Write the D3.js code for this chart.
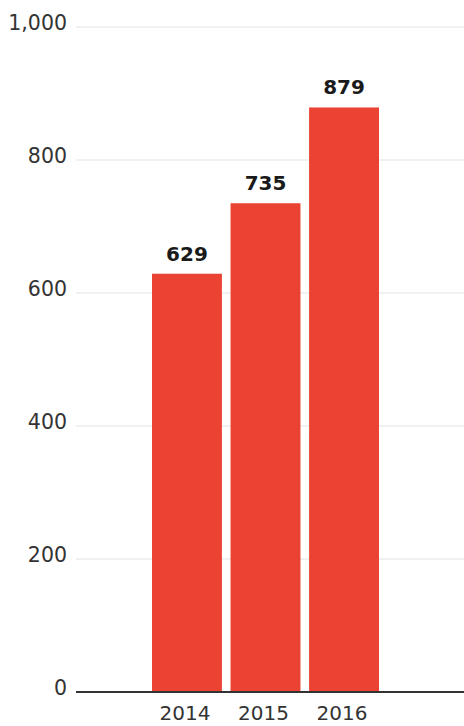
<!DOCTYPE html>
<html>
<head>
<meta charset="utf-8">
<script src="https://cdn.jsdelivr.net/npm/d3@7"></script>
<style>
  html, body { margin: 0; padding: 0; background: #fff; }
  svg { display: block; }
</style>
</head>
<body>
<script>
const years = ["2014", "2015", "2016"];
const counts = [629, 735, 879];
const yTicks = [0, 200, 400, 600, 800, 1000];

const W = 464, H = 726;
const svg = d3.select("body").append("svg").attr("width", W).attr("height", H);

const y = d3.scaleLinear().domain([0, 1000]).range([692, 27]);
const x = d3.scaleBand().domain(years).range([152, 379]).paddingInner(0.11).paddingOuter(0);

const font = "'DejaVu Sans', sans-serif";
const fmt = d3.format(",");

// horizontal gridlines
svg.append("g").selectAll("line")
  .data(yTicks.filter(t => t > 0))
  .join("line")
  .attr("x1", 76).attr("x2", W)
  .attr("y1", d => y(d)).attr("y2", d => y(d))
  .attr("stroke", "#e3e3e3").attr("stroke-width", 1.2);

// y tick labels
svg.append("g").selectAll("text")
  .data(yTicks)
  .join("text")
  .attr("x", 67).attr("y", d => y(d) + 3)
  .attr("text-anchor", "end")
  .attr("font-family", font).attr("font-size", 20.5)
  .attr("fill", "#333")
  .text(d => fmt(d));

// bars
svg.append("g").selectAll("rect")
  .data(years.map((yr, i) => ({ yr, v: counts[i] })))
  .join("rect")
  .attr("x", d => x(d.yr)).attr("width", x.bandwidth())
  .attr("y", d => y(d.v)).attr("height", d => y(0) - y(d.v))
  .attr("fill", "#ea4333");

// value labels
svg.append("g").selectAll("text")
  .data(years.map((yr, i) => ({ yr, v: counts[i] })))
  .join("text")
  .attr("x", d => x(d.yr) + x.bandwidth() / 2)
  .attr("y", d => y(d.v) - 13)
  .attr("text-anchor", "middle")
  .attr("font-family", font).attr("font-weight", "bold").attr("font-size", 20)
  .attr("fill", "#1a1a1a")
  .text(d => d.v);

// baseline
svg.append("line")
  .attr("x1", 76).attr("x2", W)
  .attr("y1", y(0)).attr("y2", y(0))
  .attr("stroke", "#333").attr("stroke-width", 2);

// year labels
svg.append("g").selectAll("text")
  .data(years)
  .join("text")
  .attr("x", d => x(d) + x.bandwidth() / 2 - 2)
  .attr("y", 720)
  .attr("text-anchor", "middle")
  .attr("font-family", font).attr("font-size", 20)
  .attr("fill", "#333")
  .text(d => d);
</script>
</body>
</html>
